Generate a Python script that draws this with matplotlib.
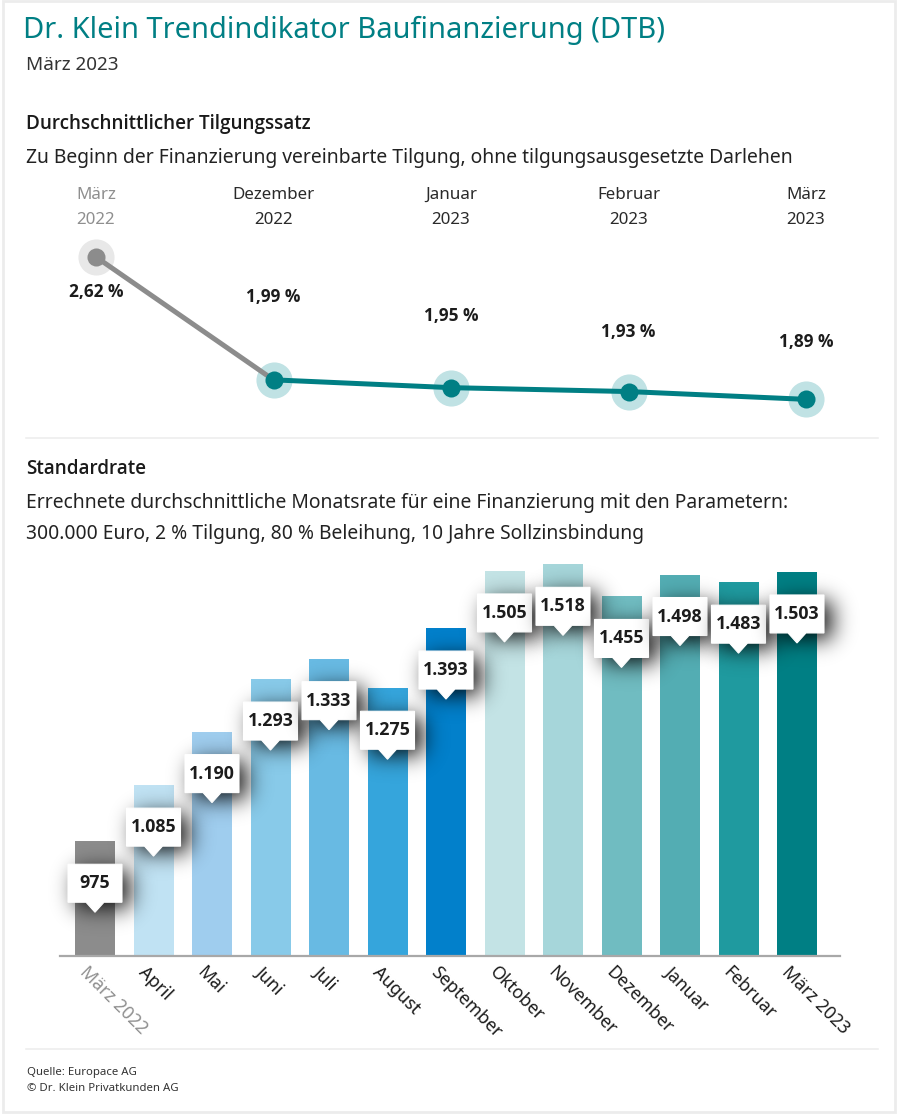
import math
import matplotlib
matplotlib.use('Agg')
import matplotlib.pyplot as plt
import numpy as np
from matplotlib.patches import Rectangle, Polygon
from matplotlib.lines import Line2D
from matplotlib.transforms import ScaledTranslation

W, H = 900, 1115
TEAL = '#007f84'
GREY = '#8c8c8c'
DARK = '#222222'
BOLD = ['Open Sans', 'DejaVu Sans']

# Tilgungssatz
tilg_monate = ['März\n2022', 'Dezember\n2022', 'Januar\n2023', 'Februar\n2023', 'März\n2023']
tilg_werte = [2.62, 1.99, 1.95, 1.93, 1.89]
tilg_labels = ['2,62 %', '1,99 %', '1,95 %', '1,93 %', '1,89 %']

# Standardrate
monate = ['März 2022', 'April', 'Mai', 'Juni', 'Juli', 'August', 'September',
          'Oktober', 'November', 'Dezember', 'Januar', 'Februar', 'März 2023']
raten = [975, 1085, 1190, 1293, 1333, 1275, 1393, 1505, 1518, 1455, 1498, 1483, 1503]
farben = ['#8c8c8c', '#c0e2f3', '#9fcdee', '#88cae9', '#68bae3', '#35a5dc', '#0280cb',
          '#c3e3e5', '#a6d6da', '#70bcc1', '#53adb3', '#1f9a9f', '#007f84']

plt.rcParams['font.family'] = ['Noto Sans', 'DejaVu Sans']

fig = plt.figure(figsize=(W / 100, H / 100), dpi=100, facecolor='white')


def axes_px(x0, y0, x1, y1):
    # position in pixels, y from the top
    return fig.add_axes([x0 / W, 1 - y1 / H, (x1 - x0) / W, (y1 - y0) / H])


def text_px(x, y, s, **kw):
    kw.setdefault('color', DARK)
    kw.setdefault('va', 'center')
    return fig.text(x / W, 1 - (y + 1.5) / H, s, **kw)


phi = np.vectorize(lambda t: 0.5 * (1 + math.erf(t / math.sqrt(2))))

# Rahmen
fig.add_artist(Rectangle((3 / W, 1 - 1112 / H), 892 / W, 1111 / H, transform=fig.transFigure,
                         facecolor='white', edgecolor='#ececec', lw=2, zorder=-1))
for y in [438, 1049]:
    fig.add_artist(Line2D([26 / W, 878 / W], [1 - y / H, 1 - y / H], color='#eeeeee', lw=1.2, zorder=-1))

text_px(23, 29, 'Dr. Klein Trendindikator Baufinanzierung (DTB)', fontsize=20.9, color=TEAL)
text_px(26, 63, 'März 2023', fontsize=13.6, color='#333333')
text_px(26, 123, 'Durchschnittlicher Tilgungssatz', fontsize=13.6, family=BOLD, fontweight='semibold', color='#1a1a1a')
text_px(26, 156, 'Zu Beginn der Finanzierung vereinbarte Tilgung, ohne tilgungsausgesetzte Darlehen',
        fontsize=13.9, color='#222222')
text_px(26, 468, 'Standardrate', fontsize=13.6, family=BOLD, fontweight='semibold', color='#1a1a1a')
text_px(26, 501, 'Errechnete durchschnittliche Monatsrate für eine Finanzierung mit den Parametern:',
        fontsize=13.9, color='#222222')
text_px(26, 532, '300.000 Euro, 2 % Tilgung, 80 % Beleihung, 10 Jahre Sollzinsbindung',
        fontsize=13.9, color='#222222')
text_px(27, 1071, 'Quelle: Europace AG', fontsize=8.2, color='#333333')
text_px(27, 1087, '© Dr. Klein Privatkunden AG', fontsize=8.2, color='#333333')

# Linie oben
ax1 = axes_px(96 - 88.75, 200, 806 + 88.75, 430)
ax1.set_xlim(-0.5, 4.5)
py = 195.0  # px je Prozentpunkt
ax1.set_ylim(tilg_werte[0] - (430 - 257) / py, tilg_werte[0] + (257 - 200) / py)
ax1.axis('off')
xs = list(range(len(tilg_werte)))
ax1.plot(xs[:2], tilg_werte[:2], color=GREY, lw=3.6, solid_capstyle='round', zorder=2)
ax1.plot(xs[1:], tilg_werte[1:], color=TEAL, lw=3.6, solid_capstyle='round', zorder=3)
label_abstand = [-35, 83, 72, 60, 57]
for i, (x, v) in enumerate(zip(xs, tilg_werte)):
    c_in = GREY if i == 0 else TEAL
    c_out = '#e8e8e8' if i == 0 else '#c0e2e4'
    ax1.plot(x, v, 'o', ms=26, color=c_out, mew=0, zorder=1)
    ax1.plot(x, v, 'o', ms=13, color=c_in, mew=0, zorder=4)
    ax1.text(x, v + label_abstand[i] / py, tilg_labels[i], ha='center', va='center', fontsize=12.4,
             family=BOLD, fontweight='bold', color='#1c1c1c', clip_on=False)
    text_px(96 + 177.5 * i, 206, tilg_monate[i], ha='center', fontsize=12.2, linespacing=1.7,
            color='#8f8f8f' if i == 0 else '#2a2a2a')

# Balken unten
basis = 750.0
px_y = 0.51
ax2 = axes_px(60, 556, 840, 956)
xlim = (-35 / 58.5, 12 + 43 / 58.5)
ylim = (basis, basis + 400 / px_y)
ax2.patch.set_alpha(0)
xpos = list(range(len(raten)))
ax2.bar(xpos, raten, width=40 / 58.5, color=farben, zorder=1)
for s in ['top', 'right', 'left']:
    ax2.spines[s].set_visible(False)
ax2.spines['bottom'].set_color('#a8a8a8')
ax2.spines['bottom'].set_linewidth(1.6)
ax2.set_yticks([])
ax2.set_xticks(xpos)
ax2.set_xticklabels(monate, rotation=-45, ha='left', rotation_mode='anchor', fontsize=12.8, color='#1c1c1c')
ax2.tick_params(axis='x', length=0, pad=5)
verschiebung = ScaledTranslation(-6 / 100, 0, fig.dpi_scale_trans)
for i, lab in enumerate(ax2.get_xticklabels()):
    lab.set_transform(lab.get_transform() + verschiebung)
    if i == 0:
        lab.set_color('#8f8f8f')

px_x = 58.5
sigma = 11.0
for i, (x, v) in enumerate(zip(xpos, raten)):
    # Tooltip relativ zur Balkenoberkante, Masse in Pixeln
    oben = v - 23 / px_y
    unten = v - 61 / px_y
    spitze = v - 71 / px_y
    links = x - 27 / px_x
    rechts = x + 27 / px_x
    z = 3 + i * 0.1
    # weicher Schatten: geglaettetes Rechteck als Bild
    rand = 3 * sigma
    dx, dy = 8, 6
    gx = np.arange(-27 - rand + dx, 27 + rand + dx + 1)
    gy = np.arange(-61 - rand - dy, -23 + rand - dy + 1, 1.0)
    ax_s = phi((gx + 27 - dx) / sigma) - phi((gx - 27 - dx) / sigma)
    ay_s = phi((gy + 61 + dy) / sigma) - phi((gy + 23 + dy) / sigma)
    rgba = np.zeros((len(gy), len(gx), 4))
    rgba[..., 3] = 0.95 * np.outer(ay_s, ax_s)
    ax2.imshow(rgba, extent=(x + gx[0] / px_x, x + gx[-1] / px_x, v + gy[0] / px_y, v + gy[-1] / px_y),
               origin='lower', aspect='auto', zorder=z, clip_on=False, interpolation='bilinear')
    ax2.add_patch(Polygon([(links, oben), (rechts, oben), (rechts, unten),
                           (x + 9 / px_x, unten), (x, spitze), (x - 9 / px_x, unten), (links, unten)],
                          closed=True, facecolor='white', edgecolor='white', lw=0.8, zorder=z + 0.01,
                          clip_on=False))
    ax2.text(x, (oben + unten) / 2, f'{v:,}'.replace(',', '.'), ha='center', va='center', fontsize=12.8,
             family=BOLD, fontweight='bold', color='#1c1c1c', zorder=z + 0.02, clip_on=False)
ax2.set_xlim(*xlim)
ax2.set_ylim(*ylim)

fig.savefig('out.png', dpi=100)
